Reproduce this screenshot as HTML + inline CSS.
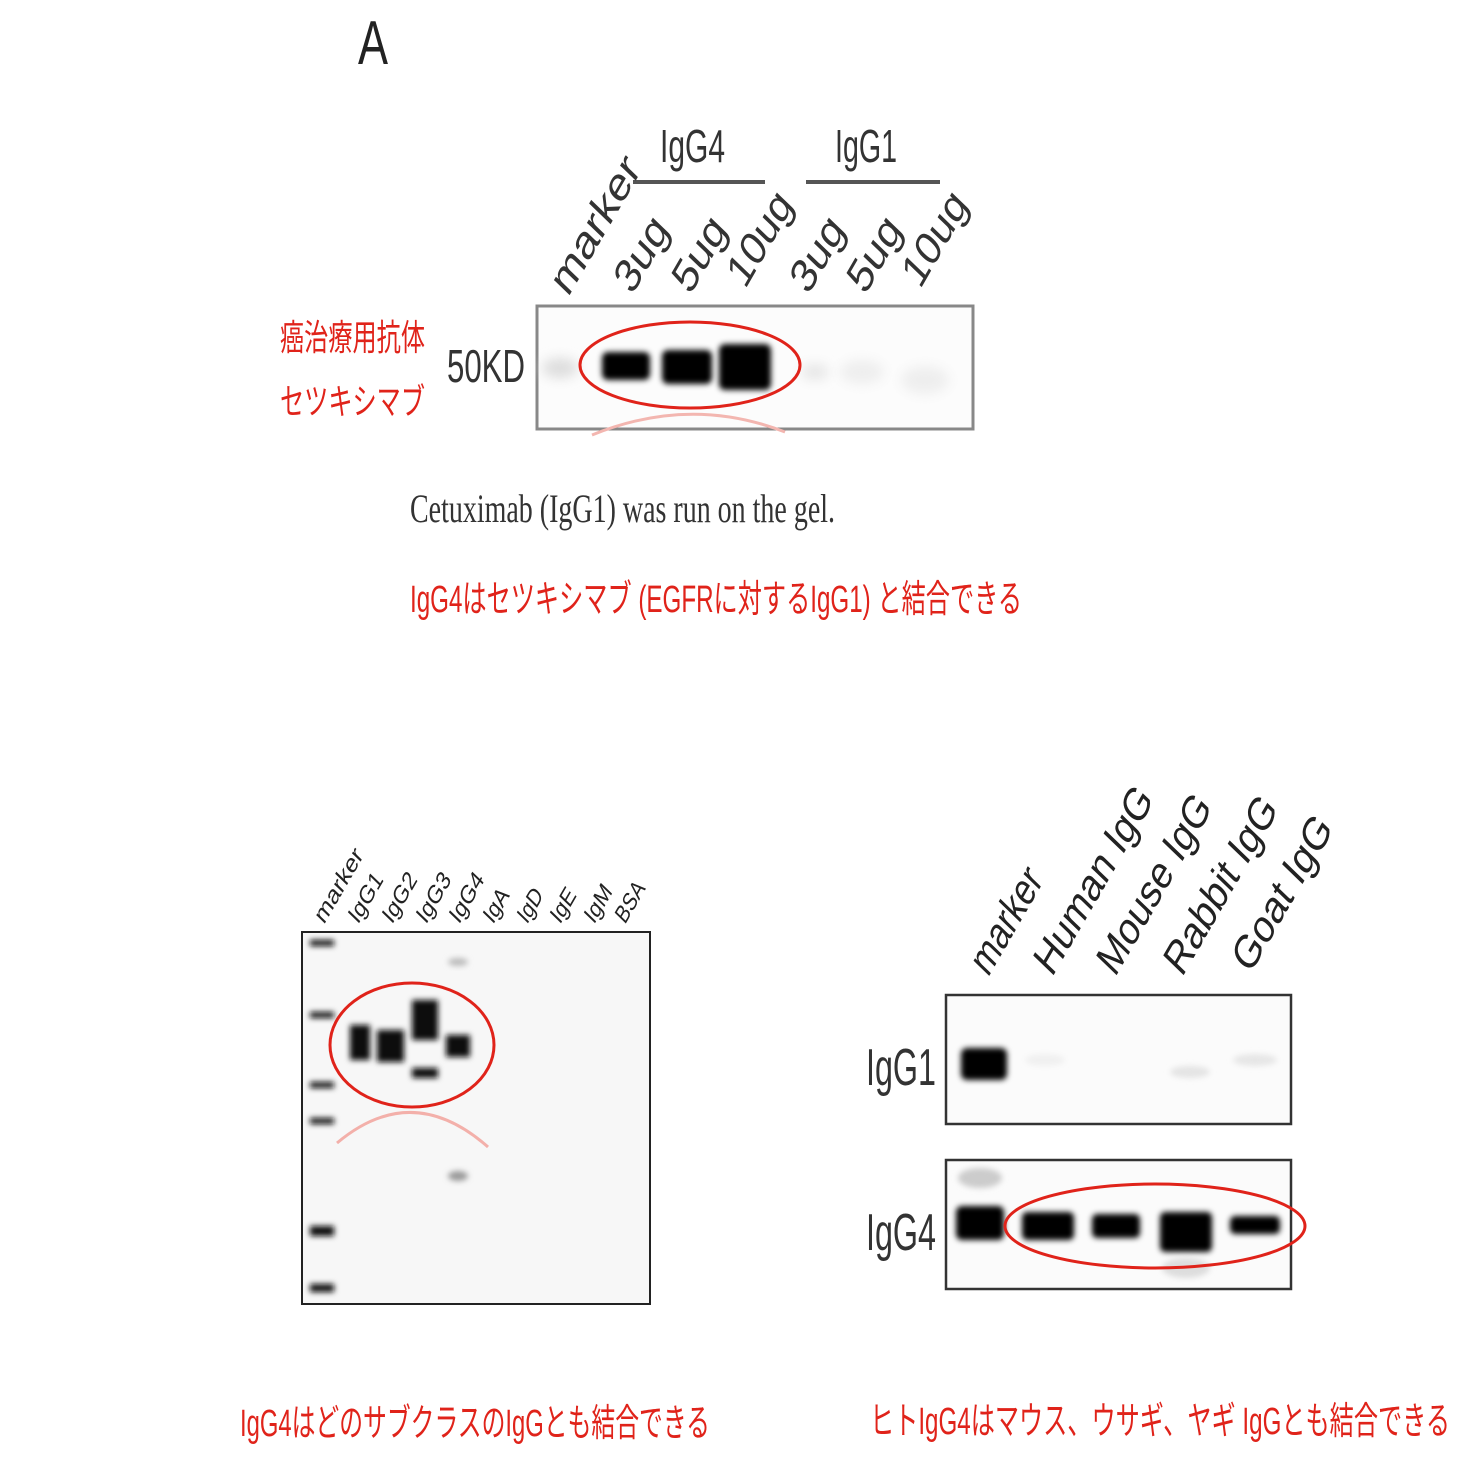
<!DOCTYPE html>
<html><head><meta charset="utf-8"><style>html,body{margin:0;padding:0;background:#fff}svg{display:block}</style></head><body>
<svg width="1458" height="1458" viewBox="0 0 1458 1458" xmlns="http://www.w3.org/2000/svg" font-family="Liberation Sans, Noto Sans CJK JP, sans-serif">
<defs>
<filter id="b3" x="-30%" y="-60%" width="160%" height="220%"><feGaussianBlur stdDeviation="3"/></filter>
<filter id="b6" x="-50%" y="-80%" width="200%" height="260%"><feGaussianBlur stdDeviation="6"/></filter>
</defs>
<rect width="1458" height="1458" fill="#fff"/>
<!-- Panel A -->
<text x="358" y="64" font-size="62" textLength="30" lengthAdjust="spacingAndGlyphs" fill="#222">A</text>
<text x="660" y="162" font-size="46" textLength="65" lengthAdjust="spacingAndGlyphs" fill="#333">IgG4</text>
<text x="835" y="162" font-size="46" textLength="62" lengthAdjust="spacingAndGlyphs" fill="#333">IgG1</text>
<line x1="633" y1="182" x2="765" y2="182" stroke="#555" stroke-width="4"/>
<line x1="806" y1="182" x2="940" y2="182" stroke="#555" stroke-width="4"/>
<g font-size="40" fill="#333">
<text transform="translate(568,298) rotate(-60) skewX(-14)" textLength="148" lengthAdjust="spacingAndGlyphs">marker</text>
<text transform="translate(632,296) rotate(-60) skewX(-14)" textLength="76" lengthAdjust="spacingAndGlyphs">3ug</text>
<text transform="translate(690,296) rotate(-60) skewX(-14)" textLength="76" lengthAdjust="spacingAndGlyphs">5ug</text>
<text transform="translate(745,290) rotate(-60) skewX(-14)" textLength="98" lengthAdjust="spacingAndGlyphs">10ug</text>
<text transform="translate(808,296) rotate(-60) skewX(-14)" textLength="76" lengthAdjust="spacingAndGlyphs">3ug</text>
<text transform="translate(865,296) rotate(-60) skewX(-14)" textLength="76" lengthAdjust="spacingAndGlyphs">5ug</text>
<text transform="translate(920,290) rotate(-60) skewX(-14)" textLength="98" lengthAdjust="spacingAndGlyphs">10ug</text>
</g>
<rect x="537" y="306" width="436" height="123" fill="#fcfcfc" stroke="#888" stroke-width="3"/>
<ellipse cx="560" cy="368" rx="18" ry="10" fill="#ddd" filter="url(#b6)"/>
<rect x="602" y="352" width="48" height="28" rx="6" fill="#000" filter="url(#b3)"/>
<rect x="662" y="350" width="50" height="34" rx="6" fill="#000" filter="url(#b3)"/>
<rect x="719" y="344" width="52" height="46" rx="6" fill="#000" filter="url(#b3)"/>
<ellipse cx="815" cy="372" rx="14" ry="8" fill="#e6e6e6" filter="url(#b6)"/>
<ellipse cx="862" cy="372" rx="22" ry="12" fill="#eee" filter="url(#b6)"/>
<ellipse cx="925" cy="380" rx="24" ry="14" fill="#eee" filter="url(#b6)"/>
<ellipse cx="690" cy="365" rx="110" ry="43" fill="none" stroke="#e0231a" stroke-width="3"/>
<path d="M592 435 Q690 395 785 432" fill="none" stroke="#f3b6b0" stroke-width="3"/>
<text x="447" y="382" font-size="46" textLength="78" lengthAdjust="spacingAndGlyphs" fill="#333">50KD</text>
<text x="280" y="350" font-size="36" textLength="145" lengthAdjust="spacingAndGlyphs" fill="#e0231a">癌治療用抗体</text>
<text x="280" y="414" font-size="36" textLength="145" lengthAdjust="spacingAndGlyphs" fill="#e0231a">セツキシマブ</text>
<text x="410" y="522" font-size="40" font-family="Liberation Serif, serif" textLength="425" lengthAdjust="spacingAndGlyphs" fill="#333">Cetuximab (IgG1) was run on the gel.</text>
<text x="410" y="612" font-size="38" textLength="612" lengthAdjust="spacingAndGlyphs" fill="#e0231a">IgG4はセツキシマブ (EGFRに対するIgG1) と結合できる</text>
<!-- Bottom-left gel -->
<g font-size="22" fill="#222">
<text transform="translate(324,925) rotate(-60) skewX(-14)" textLength="80" lengthAdjust="spacingAndGlyphs">marker</text>
<text transform="translate(358,925) rotate(-60) skewX(-14)" textLength="52" lengthAdjust="spacingAndGlyphs">IgG1</text>
<text transform="translate(392,925) rotate(-60) skewX(-14)" textLength="52" lengthAdjust="spacingAndGlyphs">IgG2</text>
<text transform="translate(426,925) rotate(-60) skewX(-14)" textLength="52" lengthAdjust="spacingAndGlyphs">IgG3</text>
<text transform="translate(459,925) rotate(-60) skewX(-14)" textLength="52" lengthAdjust="spacingAndGlyphs">IgG4</text>
<text transform="translate(493,925) rotate(-60) skewX(-14)" textLength="34" lengthAdjust="spacingAndGlyphs">IgA</text>
<text transform="translate(527,925) rotate(-60) skewX(-14)" textLength="34" lengthAdjust="spacingAndGlyphs">IgD</text>
<text transform="translate(560,925) rotate(-60) skewX(-14)" textLength="34" lengthAdjust="spacingAndGlyphs">IgE</text>
<text transform="translate(594,925) rotate(-60) skewX(-14)" textLength="38" lengthAdjust="spacingAndGlyphs">IgM</text>
<text transform="translate(625,925) rotate(-60) skewX(-14)" textLength="42" lengthAdjust="spacingAndGlyphs">BSA</text>
</g>
<rect x="302" y="932" width="348" height="372" fill="#f7f7f7" stroke="#222" stroke-width="2"/>
<g fill="#111" filter="url(#b3)">
<rect x="310" y="940" width="24" height="6"/>
<rect x="310" y="1012" width="24" height="6"/>
<rect x="310" y="1082" width="24" height="6"/>
<rect x="310" y="1118" width="24" height="6"/>
<rect x="310" y="1226" width="24" height="10"/>
<rect x="310" y="1284" width="24" height="8"/>
<rect x="350" y="1025" width="20" height="35"/>
<rect x="377" y="1030" width="27" height="32"/>
<rect x="412" y="1000" width="26" height="40"/>
<rect x="412" y="1068" width="26" height="10"/>
<rect x="446" y="1035" width="24" height="22"/>
</g>
<ellipse cx="458" cy="1176" rx="10" ry="5" fill="#999" filter="url(#b3)"/>
<ellipse cx="458" cy="962" rx="10" ry="4" fill="#bbb" filter="url(#b3)"/>
<ellipse cx="412" cy="1045" rx="82" ry="62" fill="none" stroke="#e0231a" stroke-width="3"/>
<path d="M337 1143 Q412 1080 488 1147" fill="none" stroke="#f3b0aa" stroke-width="3"/>
<text x="240" y="1436" font-size="38" textLength="470" lengthAdjust="spacingAndGlyphs" fill="#e0231a">IgG4はどのサブクラスのIgGとも結合できる</text>
<!-- Bottom-right -->
<g font-size="40" fill="#222">
<text transform="translate(988,978) rotate(-60) skewX(-14)" textLength="112" lengthAdjust="spacingAndGlyphs">marker</text>
<text transform="translate(1052,978) rotate(-60) skewX(-14)" textLength="205" lengthAdjust="spacingAndGlyphs">Human IgG</text>
<text transform="translate(1115,978) rotate(-60) skewX(-14)" textLength="196" lengthAdjust="spacingAndGlyphs">Mouse IgG</text>
<text transform="translate(1182,978) rotate(-60) skewX(-14)" textLength="194" lengthAdjust="spacingAndGlyphs">Rabbit IgG</text>
<text transform="translate(1250,975) rotate(-60) skewX(-14)" textLength="168" lengthAdjust="spacingAndGlyphs">Goat IgG</text>
</g>
<text x="866" y="1085" font-size="52" textLength="70" lengthAdjust="spacingAndGlyphs" fill="#333">IgG1</text>
<text x="866" y="1250" font-size="52" textLength="70" lengthAdjust="spacingAndGlyphs" fill="#333">IgG4</text>
<rect x="946" y="995" width="345" height="129" fill="#fbfbfb" stroke="#333" stroke-width="2.5"/>
<rect x="946" y="1160" width="345" height="129" fill="#fbfbfb" stroke="#333" stroke-width="2.5"/>
<rect x="961" y="1048" width="46" height="32" rx="6" fill="#000" filter="url(#b3)"/>
<ellipse cx="1190" cy="1072" rx="20" ry="6" fill="#e4e4e4" filter="url(#b3)"/>
<ellipse cx="1255" cy="1060" rx="22" ry="6" fill="#e6e6e6" filter="url(#b3)"/>
<ellipse cx="1045" cy="1060" rx="20" ry="6" fill="#f0f0f0" filter="url(#b3)"/>
<g fill="#000" filter="url(#b3)">
<rect x="956" y="1206" width="48" height="34" rx="6"/>
<rect x="1022" y="1212" width="52" height="28" rx="5"/>
<rect x="1092" y="1214" width="48" height="24" rx="5"/>
<rect x="1160" y="1212" width="52" height="40" rx="5"/>
<rect x="1230" y="1216" width="50" height="18" rx="5"/>
</g>
<ellipse cx="1186" cy="1268" rx="24" ry="10" fill="#ddd" filter="url(#b3)"/>
<ellipse cx="980" cy="1178" rx="22" ry="10" fill="#ccc" filter="url(#b3)"/>
<ellipse cx="1155" cy="1226" rx="150" ry="42" fill="none" stroke="#e0231a" stroke-width="3"/>
<text x="870" y="1434" font-size="38" textLength="580" lengthAdjust="spacingAndGlyphs" fill="#e0231a">ヒトIgG4はマウス、ウサギ、ヤギ IgGとも結合できる</text>
</svg>
</body></html>
